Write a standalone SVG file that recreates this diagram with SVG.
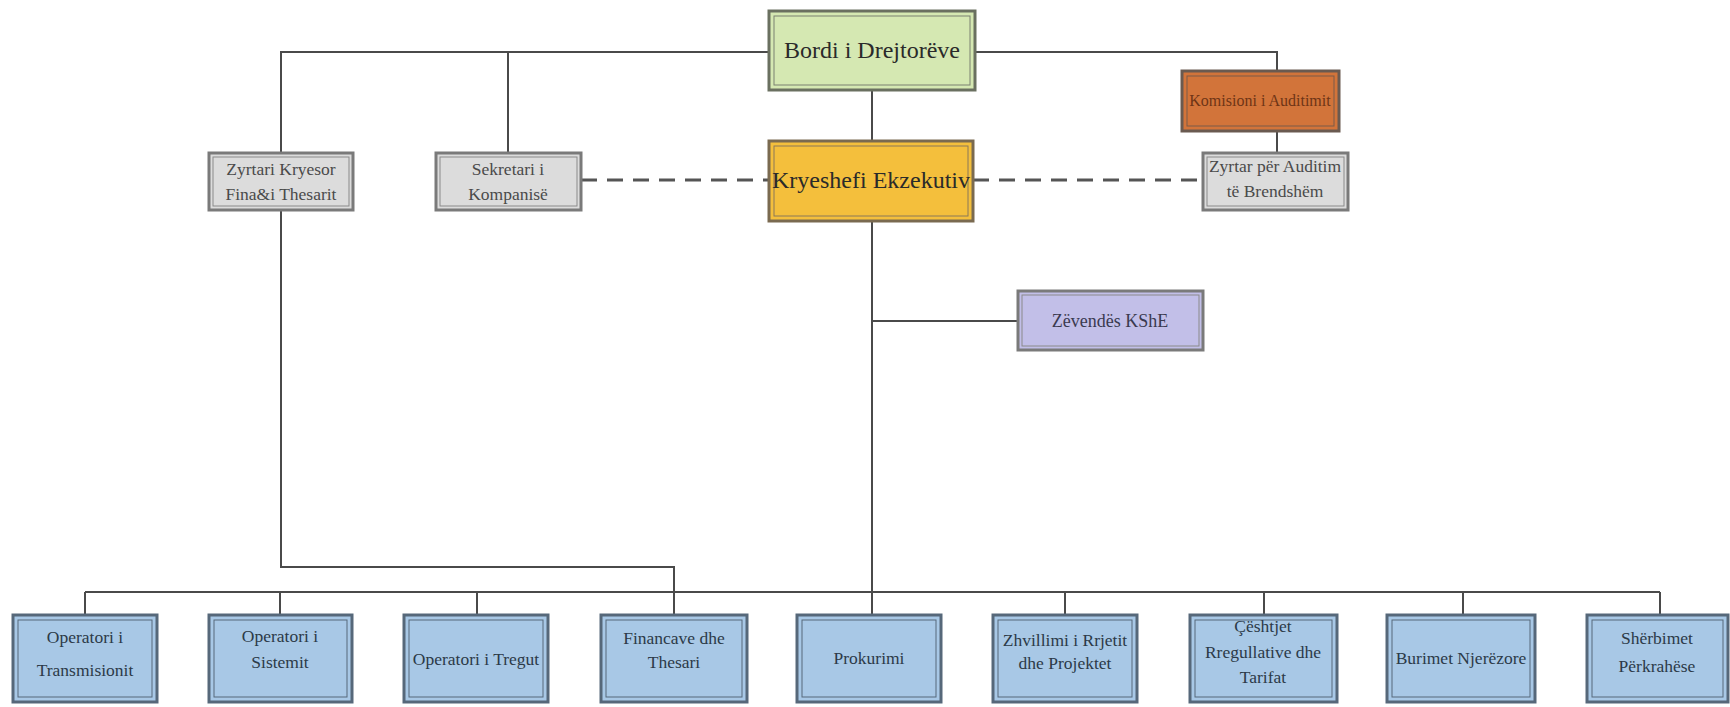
<svg xmlns="http://www.w3.org/2000/svg" width="1730" height="707" viewBox="0 0 1730 707">
<style>
.ln{stroke:#4a4a4a;stroke-width:2;fill:none}
.dash{stroke:#555;stroke-width:3;fill:none;stroke-dasharray:16 10}
.o{stroke-width:3}
.i{fill:none;stroke-width:1}
.blue .o{fill:#a8c8e6;stroke:#56687a}
.blue .i{stroke:#56687a}
.gray .o{fill:#dcdcdc;stroke:#7a7a7a}
.gray .i{stroke:#8a8a8a}
.t{font-family:"Liberation Serif","DejaVu Serif",serif;text-anchor:middle}
.blue .t{font-size:17.5px;fill:#2c3a48}
.gray .t{font-size:17.5px;fill:#4a4a4a}
</style>
<rect width="1730" height="707" fill="#ffffff"/>
<g id="connectors">
<path class="ln" d="M281 153V52H769"/>
<path class="ln" d="M508 52V153"/>
<path class="ln" d="M975 52H1277V71"/>
<path class="ln" d="M1277 131V153"/>
<path class="ln" d="M872 90V141"/>
<path class="ln" d="M872 221V615"/>
<path class="ln" d="M872 321H1018"/>
<path class="ln" d="M281 210V567H674V615"/>
<path class="ln" d="M85 592H1660"/>
<path class="ln" d="M85 592V615M280 592V615M477 592V615M1065 592V615M1264 592V615M1463 592V615M1660 592V615"/>
<path class="dash" d="M581 180H769"/>
<path class="dash" d="M973 180H1203"/>
</g>
<g id="bordi">
<rect class="o" x="769" y="11" width="206" height="79" fill="#d5e8b2" stroke="#6a7060"/>
<rect class="i" x="774" y="16" width="196" height="69" stroke="#7a8070"/>
<text class="t" x="872" y="58" font-size="24" fill="#2a2a2a">Bordi i Drejtorëve</text>
</g>
<g id="kryeshefi">
<rect class="o" x="769" y="141" width="204" height="80" fill="#f4bf3c" stroke="#7a6a50"/>
<rect class="i" x="774" y="146" width="194" height="70" stroke="#8a7858"/>
<text class="t" x="871" y="188" font-size="24" fill="#2a2a2a">Kryeshefi Ekzekutiv</text>
</g>
<g id="komisioni">
<rect class="o" x="1182" y="71" width="157" height="60" fill="#d2743a" stroke="#6a5a50"/>
<rect class="i" x="1187" y="76" width="147" height="50" stroke="#7a5a48"/>
<text class="t" x="1260" y="106" font-size="16" fill="#6e3416">Komisioni i Auditimit</text>
</g>
<g id="zyrtar-auditim" class="gray">
<rect class="o" x="1203" y="153" width="145" height="57"/>
<rect class="i" x="1207" y="157" width="137" height="49"/>
<text class="t" x="1275" y="172">Zyrtar për Auditim</text>
<text class="t" x="1275" y="197">të Brendshëm</text>
</g>
<g id="zyrtari-kryesor" class="gray">
<rect class="o" x="209" y="153" width="144" height="57"/>
<rect class="i" x="213" y="157" width="136" height="49"/>
<text class="t" x="281" y="175">Zyrtari Kryesor</text>
<text class="t" x="281" y="200">Fina&amp;i Thesarit</text>
</g>
<g id="sekretari" class="gray">
<rect class="o" x="436" y="153" width="145" height="57"/>
<rect class="i" x="440" y="157" width="137" height="49"/>
<text class="t" x="508" y="175">Sekretari i</text>
<text class="t" x="508" y="200">Kompanisë</text>
</g>
<g id="zevendes">
<rect class="o" x="1018" y="291" width="185" height="59" fill="#c2bfe8" stroke="#7a7a7a"/>
<rect class="i" x="1022" y="295" width="177" height="51" stroke="#8a8a8a"/>
<text class="t" x="1110" y="327" font-size="18" fill="#3a3a50">Zëvendës KShE</text>
</g>
<g id="op-transmisionit" class="blue">
<rect class="o" x="13" y="615" width="144" height="87"/>
<rect class="i" x="18" y="620" width="134" height="77"/>
<text class="t" x="85" y="643">Operatori i</text>
<text class="t" x="85" y="676">Transmisionit</text>
</g>
<g id="op-sistemit" class="blue">
<rect class="o" x="209" y="615" width="143" height="87"/>
<rect class="i" x="214" y="620" width="133" height="77"/>
<text class="t" x="280" y="642">Operatori i</text>
<text class="t" x="280" y="668">Sistemit</text>
</g>
<g id="op-tregut" class="blue">
<rect class="o" x="404" y="615" width="144" height="87"/>
<rect class="i" x="409" y="620" width="134" height="77"/>
<text class="t" x="476" y="665">Operatori i Tregut</text>
</g>
<g id="financave" class="blue">
<rect class="o" x="601" y="615" width="146" height="87"/>
<rect class="i" x="606" y="620" width="136" height="77"/>
<text class="t" x="674" y="644">Financave dhe</text>
<text class="t" x="674" y="668">Thesari</text>
</g>
<g id="prokurimi" class="blue">
<rect class="o" x="797" y="615" width="144" height="87"/>
<rect class="i" x="802" y="620" width="134" height="77"/>
<text class="t" x="869" y="664">Prokurimi</text>
</g>
<g id="zhvillimi" class="blue">
<rect class="o" x="993" y="615" width="144" height="87"/>
<rect class="i" x="998" y="620" width="134" height="77"/>
<text class="t" x="1065" y="646">Zhvillimi i Rrjetit</text>
<text class="t" x="1065" y="669">dhe Projektet</text>
</g>
<g id="ceshtjet" class="blue">
<rect class="o" x="1190" y="615" width="147" height="87"/>
<rect class="i" x="1195" y="620" width="137" height="77"/>
<text class="t" x="1263" y="632">Çështjet</text>
<text class="t" x="1263" y="658">Rregullative dhe</text>
<text class="t" x="1263" y="683">Tarifat</text>
</g>
<g id="burimet" class="blue">
<rect class="o" x="1387" y="615" width="148" height="87"/>
<rect class="i" x="1392" y="620" width="138" height="77"/>
<text class="t" x="1461" y="664">Burimet Njerëzore</text>
</g>
<g id="sherbimet" class="blue">
<rect class="o" x="1587" y="615" width="141" height="87"/>
<rect class="i" x="1592" y="620" width="131" height="77"/>
<text class="t" x="1657" y="644">Shërbimet</text>
<text class="t" x="1657" y="672">Përkrahëse</text>
</g>
</svg>
